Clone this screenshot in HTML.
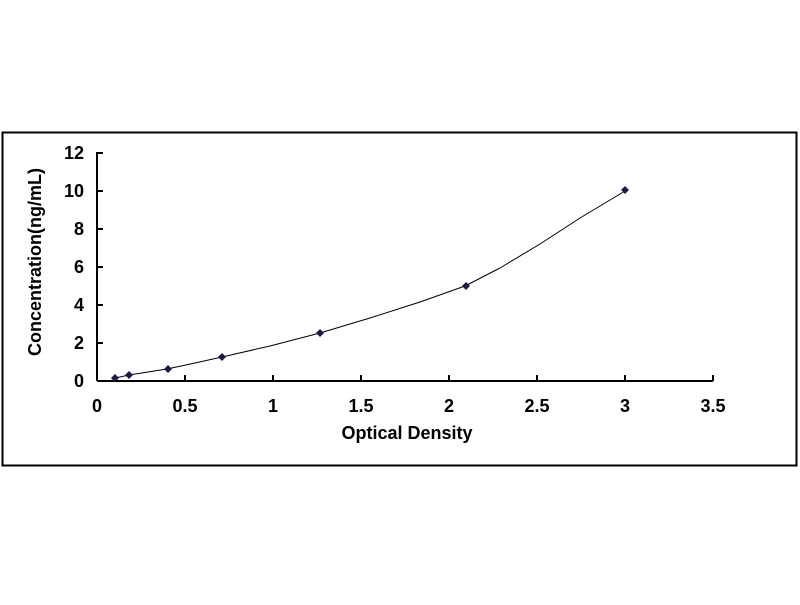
<!DOCTYPE html>
<html><head><style>body{margin:0;background:#fff;}svg text{font-family:"Liberation Sans",Arial,sans-serif;font-weight:bold;fill:#000;}</style></head>
<body>
<svg width="800" height="600" xmlns="http://www.w3.org/2000/svg">
<rect x="2.5" y="132.5" width="794" height="333" fill="#fff" stroke="#000" stroke-width="2"/>
<g stroke="#000" stroke-width="2" fill="none">
<line x1="97" y1="152" x2="97" y2="381"/>
<line x1="97" y1="381" x2="713" y2="381"/>
<line x1="97" y1="153" x2="103" y2="153"/>
<line x1="97" y1="191" x2="103" y2="191"/>
<line x1="97" y1="229" x2="103" y2="229"/>
<line x1="97" y1="267" x2="103" y2="267"/>
<line x1="97" y1="305" x2="103" y2="305"/>
<line x1="97" y1="343" x2="103" y2="343"/>
<line x1="185" y1="375" x2="185" y2="381"/>
<line x1="273" y1="375" x2="273" y2="381"/>
<line x1="361" y1="375" x2="361" y2="381"/>
<line x1="449" y1="375" x2="449" y2="381"/>
<line x1="537" y1="375" x2="537" y2="381"/>
<line x1="625" y1="375" x2="625" y2="381"/>
<line x1="713" y1="375" x2="713" y2="381"/>
</g>
<g font-size="18" text-anchor="end">
<text x="84" y="159">12</text><text x="84" y="197">10</text><text x="84" y="235">8</text>
<text x="84" y="273">6</text><text x="84" y="311">4</text><text x="84" y="349">2</text><text x="84" y="387">0</text>
</g>
<g font-size="18" text-anchor="middle">
<text x="97" y="412">0</text><text x="185" y="412">0.5</text><text x="273" y="412">1</text>
<text x="361" y="412">1.5</text><text x="449" y="412">2</text><text x="537" y="412">2.5</text>
<text x="625" y="412">3</text><text x="713" y="412">3.5</text>
</g>
<text x="407" y="439" font-size="18" text-anchor="middle">Optical Density</text>
<text transform="translate(41,262) rotate(-90)" font-size="18" text-anchor="middle">Concentration(ng/mL)</text>
<polyline points="115,378 129,375 148,372 167,369 195,363 222,357 270,346 320,333 370,318 420,302 465,286 500,268 540,244 580,218 625,191" fill="none" stroke="#000" stroke-width="1" stroke-linejoin="round"/>
<g fill="#1a1a4a">
<path d="M115,374 l4,4 l-4,4 l-4,-4z"/>
<path d="M129,371 l4,4 l-4,4 l-4,-4z"/>
<path d="M168,365 l4,4 l-4,4 l-4,-4z"/>
<path d="M222,353 l4,4 l-4,4 l-4,-4z"/>
<path d="M320,329 l4,4 l-4,4 l-4,-4z"/>
<path d="M466,282 l4,4 l-4,4 l-4,-4z"/>
<path d="M625,186 l4,4 l-4,4 l-4,-4z"/>
</g>
</svg>
</body></html>
